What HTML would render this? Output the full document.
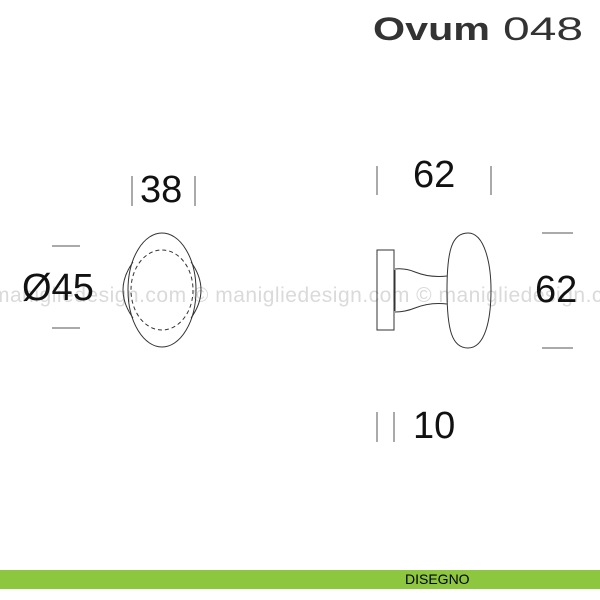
<!DOCTYPE html>
<html><head><style>
body{margin:0;width:600px;height:600px;background:#fff;position:relative;overflow:hidden;font-family:"Liberation Sans",sans-serif}
.t{position:absolute;font-size:38px;color:#111;line-height:1}
</style></head><body>
<div style="position:absolute;left:373px;top:11px;font-size:32px;color:#333;white-space:nowrap;font-weight:bold;transform:scaleX(1.29);transform-origin:0 0">Ovum</div>
<div style="position:absolute;left:503px;top:11px;font-size:32px;color:#333;white-space:nowrap;transform:scaleX(1.5);transform-origin:0 0">048</div>
<div style="position:absolute;left:0;top:0;width:600px;height:600px;overflow:hidden">
<div style="position:absolute;left:-8px;top:284px;font-size:21px;color:#dadada;white-space:nowrap;letter-spacing:0.5px">manigliedesign.com © manigliedesign.com © manigliedesign.com ©</div>
</div>
<div class="t" style="left:140px;top:171px">38</div>
<div class="t" style="left:22px;top:269px">Ø45</div>
<div class="t" style="left:413px;top:156px">62</div>
<div class="t" style="left:535px;top:271px">62</div>
<div class="t" style="left:413px;top:407px">10</div>
<svg width="600" height="600" style="position:absolute;left:0;top:0" fill="none" stroke="#333" stroke-width="1">
<g stroke="#555">
<line x1="132" y1="176" x2="132" y2="206"/><line x1="195" y1="176" x2="195" y2="206"/>
<line x1="52" y1="246" x2="80" y2="246"/><line x1="52" y1="328" x2="80" y2="328"/>
<line x1="377" y1="166" x2="377" y2="195"/><line x1="491" y1="166" x2="491" y2="195"/>
<line x1="542" y1="233" x2="573" y2="233"/><line x1="542" y1="348" x2="573" y2="348"/>
<line x1="377" y1="412" x2="377" y2="442"/><line x1="394" y1="412" x2="394" y2="442"/>
</g>
<ellipse cx="162" cy="290" rx="34" ry="57"/>
<path d="M133,262 Q113,290 133,318"/><path d="M191,262 Q211,290 191,318"/>
<ellipse cx="162" cy="290" rx="31" ry="40" stroke-dasharray="4,3"/>
<rect x="377" y="250" width="17" height="80"/>
<line x1="395" y1="270" x2="395" y2="311"/>
<path d="M395,269 Q405,268 415,272 Q430,278 447,276"/>
<path d="M395,312 Q405,312 415,308 Q430,302 447,304"/>
<path d="M447,290 C447,250 452,233 468,233 C485,233 491,265 491,290 C491,320 485,348 468,348 C452,348 447,330 447,290Z"/>
</svg>
<div style="position:absolute;left:0;top:570px;width:600px;height:19px;background:#8dc63f"></div>
<div style="position:absolute;left:405px;top:571px;font-size:14px;color:#000">DISEGNO</div>
</body></html>
